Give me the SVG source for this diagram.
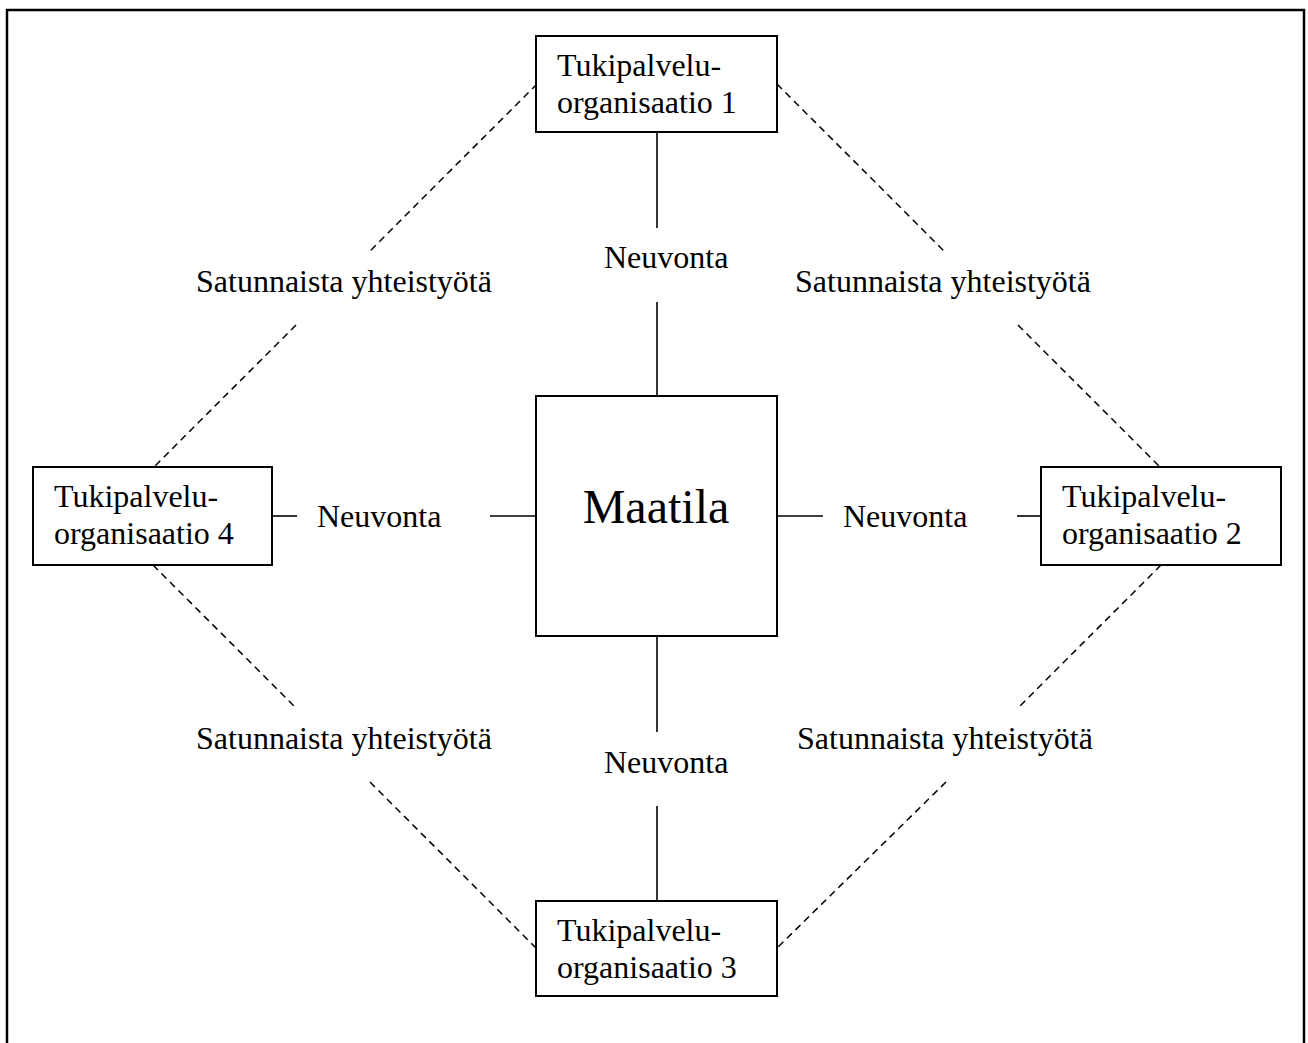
<svg xmlns="http://www.w3.org/2000/svg" width="1308" height="1043" viewBox="0 0 1308 1043">
<style>
text{font-family:"Liberation Serif","Times New Roman",serif;font-size:32px;fill:#000}
.box{fill:#fff;stroke:#000;stroke-width:2}
.solid{stroke:#000;stroke-width:1.6;fill:none}
.dash{stroke:#000;stroke-width:1.5;fill:none;stroke-dasharray:7 5}
.big{font-size:48px}
</style>
<rect width="1308" height="1043" fill="#fff"/>
<path d="M7,1043 V10 H1304 V1043" fill="none" stroke="#000" stroke-width="2.5"/>
<g id="connectors">
<line class="solid" x1="657" y1="132" x2="657" y2="228"/>
<line class="solid" x1="657" y1="302" x2="657" y2="396"/>
<line class="solid" x1="657" y1="636" x2="657" y2="732"/>
<line class="solid" x1="657" y1="806" x2="657" y2="901"/>
<line class="solid" x1="272" y1="516" x2="297" y2="516"/>
<line class="solid" x1="490" y1="516" x2="536" y2="516"/>
<line class="solid" x1="777" y1="516" x2="823" y2="516"/>
<line class="solid" x1="1017" y1="516" x2="1041" y2="516"/>
<line class="dash" x1="537" y1="84" x2="368" y2="253"/>
<line class="dash" x1="296" y1="325" x2="153" y2="468"/>
<line class="dash" x1="777" y1="84" x2="946" y2="253"/>
<line class="dash" x1="1018" y1="325" x2="1161" y2="468"/>
<line class="dash" x1="153" y1="565" x2="296" y2="708"/>
<line class="dash" x1="370" y1="782" x2="536" y2="948"/>
<line class="dash" x1="1161" y1="565" x2="1018" y2="708"/>
<line class="dash" x1="946" y1="782" x2="777" y2="948"/>
<text x="604" y="268">Neuvonta</text>
<text x="604" y="773">Neuvonta</text>
<text x="317" y="527">Neuvonta</text>
<text x="843" y="527">Neuvonta</text>
<text x="196" y="292">Satunnaista yhteistyötä</text>
<text x="795" y="292">Satunnaista yhteistyötä</text>
<text x="196" y="749">Satunnaista yhteistyötä</text>
<text x="797" y="749">Satunnaista yhteistyötä</text>
</g>
<g id="maatila">
<rect class="box" x="536" y="396" width="241" height="240"/>
<text class="big" x="656" y="523" text-anchor="middle">Maatila</text>
</g>
<g id="org1">
<rect class="box" x="536" y="36" width="241" height="96"/>
<text x="557" y="76">Tukipalvelu-</text>
<text x="557" y="113">organisaatio 1</text>
</g>
<g id="org2">
<rect class="box" x="1041" y="467" width="240" height="98"/>
<text x="1062" y="507">Tukipalvelu-</text>
<text x="1062" y="544">organisaatio 2</text>
</g>
<g id="org3">
<rect class="box" x="536" y="901" width="241" height="95"/>
<text x="557" y="941">Tukipalvelu-</text>
<text x="557" y="978">organisaatio 3</text>
</g>
<g id="org4">
<rect class="box" x="33" y="467" width="239" height="98"/>
<text x="54" y="507">Tukipalvelu-</text>
<text x="54" y="544">organisaatio 4</text>
</g>
</svg>
